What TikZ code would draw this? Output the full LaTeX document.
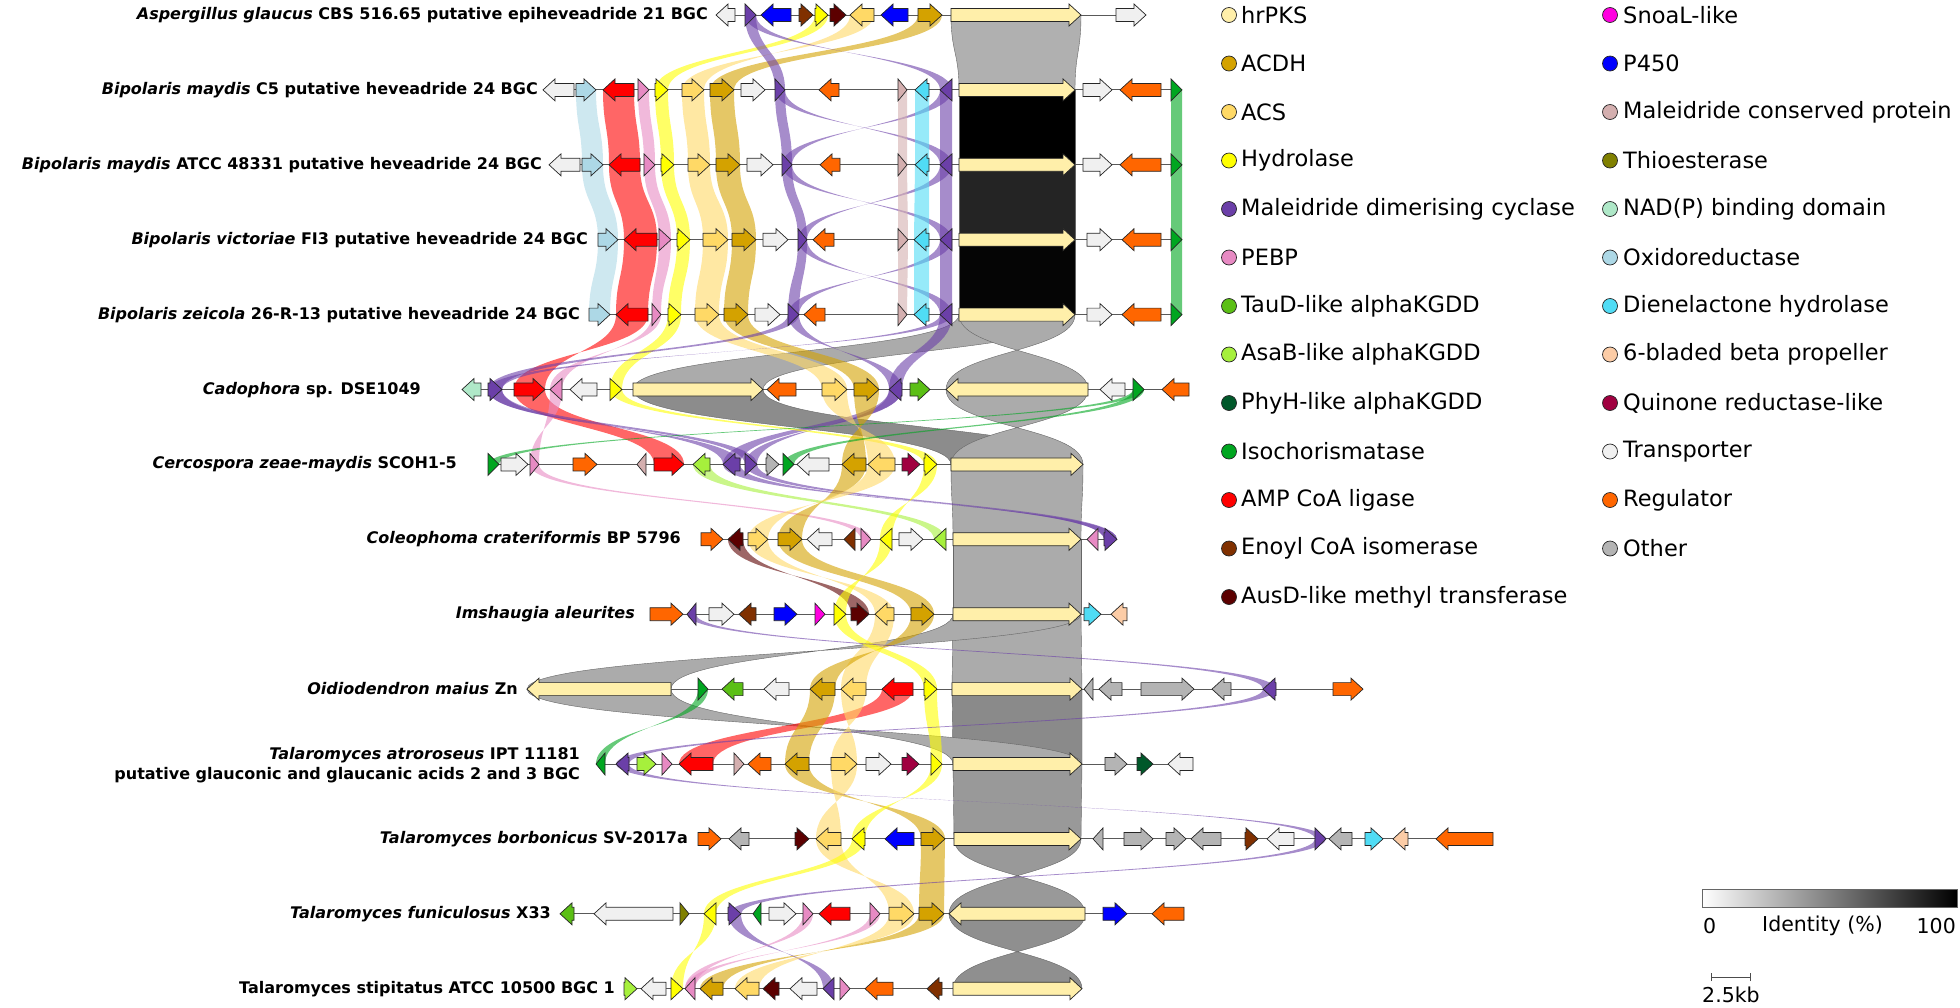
\documentclass[tikz,border=0pt]{standalone}
\usepackage{fontspec}
\setmainfont{DejaVu Sans}
\definecolor{hrpks}{HTML}{FFEFAA}
\definecolor{acdh}{HTML}{D4A200}
\definecolor{acs}{HTML}{FFD966}
\definecolor{hydro}{HTML}{FFFF00}
\definecolor{mdc}{HTML}{6B3FA8}
\definecolor{pebp}{HTML}{E78AC3}
\definecolor{taud}{HTML}{5BBF15}
\definecolor{asab}{HTML}{A6F03C}
\definecolor{phyh}{HTML}{00582A}
\definecolor{isoc}{HTML}{00A620}
\definecolor{amp}{HTML}{FF0000}
\definecolor{enoyl}{HTML}{803000}
\definecolor{ausd}{HTML}{5C0000}
\definecolor{snoal}{HTML}{FF00E0}
\definecolor{p450}{HTML}{0000FF}
\definecolor{mcp}{HTML}{D4AFAF}
\definecolor{thio}{HTML}{808000}
\definecolor{nadp}{HTML}{AFE8C8}
\definecolor{oxred}{HTML}{ADD8E6}
\definecolor{dien}{HTML}{50DCF5}
\definecolor{prop}{HTML}{FCCCA6}
\definecolor{quin}{HTML}{A00040}
\definecolor{trans}{HTML}{F0F0F0}
\definecolor{reg}{HTML}{FF6600}
\definecolor{other}{HTML}{B4B4B4}
\newcommand\species[1]{\textit{#1}}
\newcommand\genrow[1]{\pgfmathsetmacro\ry{15+74.9*(#1-1)}}
\newcommand\drawgene[3]{%
  \pgfmathsetmacro\gdir{#2>#1 ? 1 : -1}%
  \pgfmathsetmacro\ghead{min(abs(#2-#1),12)}%
  \pgfmathsetmacro\gneck{#2-\gdir*\ghead}%
  \filldraw[gene,fill=#3] (#1,\ry-6.5) -- (\gneck,\ry-6.5) -- (\gneck,\ry-11) -- (#2,\ry)
    -- (\gneck,\ry+11) -- (\gneck,\ry+6.5) -- (#1,\ry+6.5) -- cycle;}
\newcommand\drawlink[6]{%
  \pgfmathsetmacro\lka{15+74.9*(#2-1)}%
  \pgfmathsetmacro\lkb{\lka+74.9}%
  \pgfmathsetmacro\lkm{\lka+37.45}%
  \path[#1] (#3,\lka) -- (#4,\lka) .. controls (#4,\lkm) and (#6,\lkm) .. (#6,\lkb)
    -- (#5,\lkb) .. controls (#5,\lkm) and (#3,\lkm) .. cycle;}
\begin{document}
\begin{tikzpicture}[x=1pt,y=-1pt,
  gene/.style={draw=black!85,line width=0.7pt},
  backbone/.style={draw=black!65,line width=1pt},
  band/.style={fill=#1,fill opacity=0.6},
  pks/.style={fill=black!#1,draw=black!60,line width=0.4pt},
  lbl/.style={anchor=east,inner sep=0pt,font=\fontsize{16}{20}\selectfont\bfseries},
  legtext/.style={anchor=west,inner sep=0pt,font=\fontsize{22.5}{26}\selectfont},
  legdot/.style={draw=black!85,line width=0.7pt},
  scaletext/.style={inner sep=0pt,font=\fontsize{20.5}{24}\selectfont}]
\useasboundingbox (0,0) rectangle (1960,1007);

% links between neighbouring clusters
\drawlink{pks=31}{1}{951}{1081}{959}{1075}
\drawlink{band=hydro}{1}{815}{828}{655}{668}
\drawlink{band=acs}{1}{850}{874}{704}{682}
\drawlink{band=acdh}{1}{918}{942}{710}{734}
\drawlink{band=mdc}{1}{745}{756}{775}{785}
\drawlink{band=mdc}{1}{745}{756}{952}{940}

\drawlink{pks=100}{2}{959}{1075}{959}{1075}
\drawlink{band=oxred}{2}{576}{596}{582}{603}
\drawlink{band=amp}{2}{603}{634}{609}{640}
\drawlink{band=pebp}{2}{638}{649}{644}{655}
\drawlink{band=hydro}{2}{655}{668}{661}{674}
\drawlink{band=acs}{2}{682}{704}{688}{710}
\drawlink{band=acdh}{2}{710}{734}{716}{740}
\drawlink{band=mdc}{2}{775}{785}{782}{792}
\drawlink{band=mdc}{2}{775}{785}{952}{940}
\drawlink{band=mdc}{2}{940}{952}{792}{782}
\drawlink{band=mdc}{2}{940}{952}{940}{952}
\drawlink{band=mcp}{2}{898}{907}{898}{907}
\drawlink{band=dien}{2}{915}{929}{915}{929}
\drawlink{band=isoc}{2}{1171}{1182}{1171}{1182}

\drawlink{pks=86}{3}{959}{1075}{959}{1075}
\drawlink{band=oxred}{3}{582}{603}{598}{618}
\drawlink{band=amp}{3}{609}{640}{624}{657}
\drawlink{band=pebp}{3}{644}{655}{659}{671}
\drawlink{band=hydro}{3}{661}{674}{677}{690}
\drawlink{band=acs}{3}{688}{710}{703}{728}
\drawlink{band=acdh}{3}{716}{740}{732}{756}
\drawlink{band=mdc}{3}{782}{792}{798}{807}
\drawlink{band=mdc}{3}{782}{792}{952}{940}
\drawlink{band=mdc}{3}{940}{952}{807}{798}
\drawlink{band=mdc}{3}{940}{952}{940}{952}
\drawlink{band=mcp}{3}{898}{907}{898}{908}
\drawlink{band=dien}{3}{915}{929}{914}{929}
\drawlink{band=isoc}{3}{1171}{1182}{1171}{1182}

\drawlink{pks=98}{4}{959}{1075}{959}{1075}
\drawlink{band=oxred}{4}{598}{618}{589}{610}
\drawlink{band=amp}{4}{624}{657}{616}{648}
\drawlink{band=pebp}{4}{659}{671}{652}{661}
\drawlink{band=hydro}{4}{677}{690}{668}{681}
\drawlink{band=acs}{4}{703}{728}{695}{719}
\drawlink{band=acdh}{4}{732}{756}{724}{748}
\drawlink{band=mdc}{4}{798}{807}{788}{799}
\drawlink{band=mdc}{4}{798}{807}{952}{940}
\drawlink{band=mdc}{4}{940}{952}{799}{788}
\drawlink{band=mdc}{4}{940}{952}{940}{952}
\drawlink{band=mcp}{4}{898}{908}{898}{907}
\drawlink{band=dien}{4}{914}{929}{914}{929}
\drawlink{band=isoc}{4}{1171}{1182}{1171}{1182}

\drawlink{pks=33}{5}{959}{1075}{633}{763}
\drawlink{pks=33}{5}{959}{1075}{1088}{946}
\drawlink{band=amp}{5}{616}{648}{545}{514}
\drawlink{band=pebp}{5}{652}{661}{562}{550}
\drawlink{band=hydro}{5}{668}{681}{610}{622}
\drawlink{band=acs}{5}{695}{719}{822}{847}
\drawlink{band=acdh}{5}{724}{748}{854}{879}
\drawlink{band=mdc}{5}{788}{799}{488}{502}
\drawlink{band=mdc}{5}{788}{799}{902}{889}
\drawlink{band=mdc}{5}{940}{952}{502}{488}
\drawlink{band=mdc}{5}{940}{952}{889}{902}

\drawlink{pks=45}{6}{633}{763}{951}{1083}
\drawlink{pks=33}{6}{946}{1088}{1083}{951}
\drawlink{band=amp}{6}{514}{545}{654}{684}
\drawlink{band=pebp}{6}{550}{562}{539}{530}
\drawlink{band=mdc}{6}{488}{502}{740}{723}
\drawlink{band=mdc}{6}{488}{502}{745}{757}
\drawlink{band=mdc}{6}{889}{902}{723}{740}
\drawlink{band=mdc}{6}{889}{902}{757}{745}
\drawlink{band=hydro}{6}{610}{622}{924}{937}
\drawlink{band=acs}{6}{822}{847}{895}{868}
\drawlink{band=acdh}{6}{854}{879}{866}{842}
\drawlink{band=isoc}{6}{1133}{1144}{488}{499}
\drawlink{band=isoc}{6}{1133}{1144}{783}{794}

\drawlink{pks=33}{7}{951}{1083}{953}{1081}
\drawlink{band=pebp}{7}{530}{539}{861}{871}
\drawlink{band=asab}{7}{693}{710}{934}{946}
\drawlink{band=mdc}{7}{723}{740}{1117}{1104}
\drawlink{band=mdc}{7}{745}{757}{1104}{1117}
\drawlink{band=acdh}{7}{842}{866}{802}{778}
\drawlink{band=acs}{7}{868}{895}{768}{748}
\drawlink{band=hydro}{7}{924}{937}{892}{880}

\drawlink{pks=33}{8}{953}{1081}{953}{1081}
\drawlink{band=ausd}{8}{728}{743}{869}{851}
\drawlink{band=acs}{8}{748}{768}{894}{875}
\drawlink{band=acdh}{8}{778}{802}{911}{934}
\drawlink{band=hydro}{8}{880}{892}{846}{834}

\drawlink{pks=33}{9}{953}{1081}{952}{1082}
\drawlink{pks=33}{9}{953}{1081}{671}{527}
\drawlink{band=acs}{9}{875}{894}{841}{866}
\drawlink{band=acdh}{9}{911}{934}{835}{810}
\drawlink{band=hydro}{9}{834}{846}{924}{937}
\drawlink{band=mdc}{9}{687}{696}{1263}{1276}

\drawlink{pks=46}{10}{952}{1082}{953}{1082}
\drawlink{pks=33}{10}{527}{671}{1082}{953}
\drawlink{band=isoc}{10}{698}{708}{605}{596}
\drawlink{band=amp}{10}{882}{913}{679}{713}
\drawlink{band=acdh}{10}{810}{835}{785}{809}
\drawlink{band=acs}{10}{841}{866}{857}{831}
\drawlink{band=hydro}{10}{924}{937}{931}{942}
\drawlink{band=mdc}{10}{1263}{1276}{616}{629}

\drawlink{pks=40}{11}{953}{1082}{954}{1081}
\drawlink{band=acdh}{11}{785}{809}{945}{921}
\drawlink{band=acs}{11}{831}{857}{841}{816}
\drawlink{band=hydro}{11}{931}{942}{865}{852}
\drawlink{band=mdc}{11}{616}{629}{1326}{1315}

\drawlink{pks=40}{12}{954}{1081}{1085}{949}
\drawlink{band=acdh}{12}{921}{945}{919}{944}
\drawlink{band=acs}{12}{816}{841}{914}{889}
\drawlink{band=hydro}{12}{852}{865}{704}{716}
\drawlink{band=mdc}{12}{1315}{1326}{728}{741}

\drawlink{pks=44}{13}{949}{1085}{1082}{953}
\drawlink{band=hydro}{13}{704}{716}{683}{671}
\drawlink{band=mdc}{13}{728}{741}{834}{823}
\drawlink{band=pebp}{13}{803}{813}{695}{685}
\drawlink{band=pebp}{13}{870}{880}{695}{685}
\drawlink{band=acs}{13}{889}{914}{759}{735}
\drawlink{band=acdh}{13}{919}{944}{723}{700}

% clusters
\genrow{1}
\draw[backbone] (716,\ry) -- (1146,\ry);
\drawgene{735}{716}{trans}\drawgene{745}{756}{mdc}\drawgene{791}{761}{p450}
\drawgene{799}{813}{enoyl}\drawgene{815}{828}{hydro}\drawgene{830}{846}{ausd}
\drawgene{874}{850}{acs}\drawgene{908}{881}{p450}\drawgene{918}{942}{acdh}
\drawgene{951}{1081}{hrpks}\drawgene{1116}{1146}{trans}

\genrow{2}
\draw[backbone] (543,\ry) -- (1182,\ry);
\drawgene{574}{543}{trans}\drawgene{576}{596}{oxred}\drawgene{634}{603}{amp}
\drawgene{638}{649}{pebp}\drawgene{655}{668}{hydro}\drawgene{682}{704}{acs}
\drawgene{710}{734}{acdh}\drawgene{741}{765}{trans}\drawgene{775}{785}{mdc}
\drawgene{839}{819}{reg}\drawgene{898}{907}{mcp}\drawgene{929}{915}{dien}
\drawgene{952}{940}{mdc}\drawgene{959}{1075}{hrpks}\drawgene{1083}{1112}{trans}
\drawgene{1161}{1120}{reg}\drawgene{1171}{1182}{isoc}

\genrow{3}
\draw[backbone] (549,\ry) -- (1182,\ry);
\drawgene{580}{549}{trans}\drawgene{582}{603}{oxred}\drawgene{640}{609}{amp}
\drawgene{644}{655}{pebp}\drawgene{661}{674}{hydro}\drawgene{688}{710}{acs}
\drawgene{716}{740}{acdh}\drawgene{747}{773}{trans}\drawgene{782}{792}{mdc}
\drawgene{840}{820}{reg}\drawgene{898}{907}{mcp}\drawgene{929}{915}{dien}
\drawgene{952}{940}{mdc}\drawgene{959}{1075}{hrpks}\drawgene{1083}{1112}{trans}
\drawgene{1161}{1120}{reg}\drawgene{1171}{1182}{isoc}

\genrow{4}
\draw[backbone] (598,\ry) -- (1182,\ry);
\drawgene{598}{618}{oxred}\drawgene{657}{624}{amp}\drawgene{659}{671}{pebp}
\drawgene{677}{690}{hydro}\drawgene{703}{728}{acs}\drawgene{732}{756}{acdh}
\drawgene{763}{788}{trans}\drawgene{798}{807}{mdc}\drawgene{834}{813}{reg}
\drawgene{898}{908}{mcp}\drawgene{929}{914}{dien}\drawgene{952}{940}{mdc}
\drawgene{959}{1075}{hrpks}\drawgene{1087}{1112}{trans}\drawgene{1161}{1122}{reg}
\drawgene{1171}{1182}{isoc}

\genrow{5}
\draw[backbone] (589,\ry) -- (1182,\ry);
\drawgene{589}{610}{oxred}\drawgene{648}{616}{amp}\drawgene{652}{661}{pebp}
\drawgene{668}{681}{hydro}\drawgene{695}{719}{acs}\drawgene{724}{748}{acdh}
\drawgene{755}{780}{trans}\drawgene{788}{799}{mdc}\drawgene{825}{804}{reg}
\drawgene{898}{907}{mcp}\drawgene{929}{914}{dien}\drawgene{952}{940}{mdc}
\drawgene{959}{1075}{hrpks}\drawgene{1087}{1112}{trans}\drawgene{1161}{1122}{reg}
\drawgene{1171}{1182}{isoc}

\genrow{6}
\draw[backbone] (462,\ry) -- (1189,\ry);
\drawgene{481}{462}{nadp}\drawgene{488}{502}{mdc}\drawgene{514}{545}{amp}
\drawgene{562}{550}{pebp}\drawgene{597}{570}{trans}\drawgene{610}{622}{hydro}
\drawgene{633}{763}{hrpks}\drawgene{796}{767}{reg}\drawgene{822}{847}{acs}
\drawgene{854}{879}{acdh}\drawgene{902}{889}{mdc}\drawgene{910}{930}{taud}
\drawgene{1088}{946}{hrpks}\drawgene{1125}{1100}{trans}\drawgene{1133}{1144}{isoc}
\drawgene{1189}{1162}{reg}

\genrow{7}
\draw[backbone] (488,\ry) -- (1083,\ry);
\drawgene{488}{499}{isoc}\drawgene{501}{528}{trans}\drawgene{530}{539}{pebp}
\drawgene{573}{597}{reg}\drawgene{646}{637}{mcp}\drawgene{654}{684}{amp}
\drawgene{710}{693}{asab}\drawgene{740}{723}{mdc}\drawgene{745}{757}{mdc}
\drawgene{766}{779}{other}\drawgene{783}{794}{isoc}\drawgene{829}{797}{trans}
\drawgene{866}{842}{acdh}\drawgene{895}{868}{acs}\drawgene{902}{920}{quin}
\drawgene{924}{937}{hydro}\drawgene{951}{1083}{hrpks}

\genrow{8}
\draw[backbone] (701,\ry) -- (1117,\ry);
\drawgene{701}{723}{reg}\drawgene{743}{728}{ausd}\drawgene{748}{768}{acs}
\drawgene{778}{802}{acdh}\drawgene{832}{807}{trans}\drawgene{855}{844}{enoyl}
\drawgene{861}{871}{pebp}\drawgene{892}{880}{hydro}\drawgene{899}{923}{trans}
\drawgene{946}{934}{asab}\drawgene{953}{1081}{hrpks}\drawgene{1098}{1087}{pebp}
\drawgene{1104}{1117}{mdc}

\genrow{9}
\draw[backbone] (650,\ry) -- (1127,\ry);
\drawgene{650}{683}{reg}\drawgene{696}{687}{mdc}\drawgene{709}{734}{trans}
\drawgene{756}{739}{enoyl}\drawgene{774}{797}{p450}\drawgene{815}{825}{snoal}
\drawgene{834}{846}{hydro}\drawgene{851}{869}{ausd}\drawgene{894}{875}{acs}
\drawgene{911}{934}{acdh}\drawgene{953}{1081}{hrpks}\drawgene{1084}{1101}{dien}
\drawgene{1127}{1111}{prop}

\genrow{10}
\draw[backbone] (527,\ry) -- (1363,\ry);
\drawgene{671}{527}{hrpks}\drawgene{698}{708}{isoc}\drawgene{743}{722}{taud}
\drawgene{789}{764}{trans}\drawgene{835}{810}{acdh}\drawgene{866}{841}{acs}
\drawgene{913}{882}{amp}\drawgene{924}{937}{hydro}\drawgene{952}{1082}{hrpks}
\drawgene{1093}{1084}{other}\drawgene{1122}{1099}{other}\drawgene{1141}{1194}{other}
\drawgene{1231}{1212}{other}\drawgene{1276}{1263}{mdc}\drawgene{1333}{1363}{reg}

\genrow{11}
\draw[backbone] (596,\ry) -- (1193,\ry);
\drawgene{605}{596}{isoc}\drawgene{629}{616}{mdc}\drawgene{637}{656}{asab}
\drawgene{662}{672}{pebp}\drawgene{713}{679}{amp}\drawgene{734}{744}{mcp}
\drawgene{771}{748}{reg}\drawgene{809}{785}{acdh}\drawgene{831}{857}{acs}
\drawgene{866}{891}{trans}\drawgene{902}{919}{quin}\drawgene{931}{942}{hydro}
\drawgene{953}{1082}{hrpks}\drawgene{1105}{1127}{other}\drawgene{1137}{1153}{phyh}
\drawgene{1193}{1168}{trans}

\genrow{12}
\draw[backbone] (698,\ry) -- (1493,\ry);
\drawgene{698}{721}{reg}\drawgene{749}{729}{other}\drawgene{795}{809}{ausd}
\drawgene{841}{816}{acs}\drawgene{865}{852}{hydro}\drawgene{914}{885}{p450}
\drawgene{921}{945}{acdh}\drawgene{954}{1081}{hrpks}\drawgene{1103}{1093}{other}
\drawgene{1124}{1153}{other}\drawgene{1166}{1186}{other}\drawgene{1221}{1191}{other}
\drawgene{1245}{1258}{enoyl}\drawgene{1294}{1267}{trans}\drawgene{1315}{1326}{mdc}
\drawgene{1352}{1329}{other}\drawgene{1365}{1383}{dien}\drawgene{1408}{1393}{prop}
\drawgene{1493}{1436}{reg}

\genrow{13}
\draw[backbone] (560,\ry) -- (1184,\ry);
\drawgene{574}{560}{taud}\drawgene{673}{594}{trans}\drawgene{680}{689}{thio}
\drawgene{716}{704}{hydro}\drawgene{728}{741}{mdc}\drawgene{761}{753}{isoc}
\drawgene{769}{796}{trans}\drawgene{803}{813}{pebp}\drawgene{850}{819}{amp}
\drawgene{870}{880}{pebp}\drawgene{889}{914}{acs}\drawgene{919}{944}{acdh}
\drawgene{1085}{949}{hrpks}\drawgene{1103}{1127}{p450}\drawgene{1184}{1152}{reg}

\genrow{14}
\draw[backbone] (624,\ry) -- (1082,\ry);
\drawgene{624}{637}{asab}\drawgene{666}{641}{trans}\drawgene{671}{683}{hydro}
\drawgene{695}{685}{pebp}\drawgene{723}{700}{acdh}\drawgene{759}{735}{acs}
\drawgene{779}{763}{ausd}\drawgene{817}{790}{trans}\drawgene{834}{823}{mdc}
\drawgene{840}{850}{pebp}\drawgene{893}{865}{reg}\drawgene{942}{927}{enoyl}
\drawgene{953}{1082}{hrpks}

% cluster names
\node[lbl] (n1) at (708,15) {\species{Aspergillus glaucus} CBS 516.65 putative epiheveadride 21 BGC};
\node[lbl] (n2) at (538,90) {\species{Bipolaris maydis} C5 putative heveadride 24 BGC};
\node[lbl] (n3) at (542,165) {\species{Bipolaris maydis} ATCC 48331 putative heveadride 24 BGC};
\node[lbl] (n4) at (588,240) {\species{Bipolaris victoriae} FI3 putative heveadride 24 BGC};
\node[lbl] (n5) at (580,315) {\species{Bipolaris zeicola} 26-R-13 putative heveadride 24 BGC};
\node[lbl] (n6) at (421,390) {\species{Cadophora} sp. DSE1049};
\node[lbl] (n7) at (457,464) {\species{Cercospora zeae-maydis} SCOH1-5};
\node[lbl] (n8) at (681,539) {\species{Coleophoma crateriformis} BP 5796};
\node[lbl] (n9) at (635,614) {\species{Imshaugia aleurites}};
\node[lbl] (n10) at (518,689) {\species{Oidiodendron maius} Zn};
\node[lbl,align=right] (n11) at (580,765) {\species{Talaromyces atroroseus} IPT 11181\\putative glauconic and glaucanic acids 2 and 3 BGC};
\node[lbl] (n12) at (688,839) {\species{Talaromyces borbonicus} SV-2017a};
\node[lbl] (n13) at (551,914) {\species{Talaromyces funiculosus} X33};
\node[lbl] (n14) at (615,989) {Talaromyces stipitatus ATCC 10500 BGC 1};

% legend
\foreach \c/\t [count=\i from 0] in {hrpks/hrPKS, acdh/ACDH, acs/ACS, hydro/Hydrolase,
    mdc/Maleidride dimerising cyclase, pebp/PEBP, taud/TauD-like alphaKGDD,
    asab/AsaB-like alphaKGDD, phyh/PhyH-like alphaKGDD, isoc/Isochorismatase,
    amp/AMP CoA ligase, enoyl/Enoyl CoA isomerase, ausd/AusD-like methyl transferase}{
  \filldraw[legdot,fill=\c] (1229,15+48.5*\i) circle (7.5);
  \node[legtext] (la\i) at (1241,15+48.5*\i) {\t};
}
\foreach \c/\t [count=\i from 0] in {snoal/SnoaL-like, p450/P450, mcp/Maleidride conserved protein,
    thio/Thioesterase, nadp/NAD(P) binding domain, oxred/Oxidoreductase,
    dien/Dienelactone hydrolase, prop/6-bladed beta propeller, quin/Quinone reductase-like,
    trans/Transporter, reg/Regulator, other/Other}{
  \filldraw[legdot,fill=\c] (1610,15+48.5*\i) circle (7.5);
  \node[legtext] (lb\i) at (1623,15+48.5*\i) {\t};
}

% identity scale and size bar
\shade[left color=white,right color=black] (1702,889) rectangle (1957,907);
\draw[black!60,line width=0.6pt] (1702,889) rectangle (1957,907);
\node[scaletext,anchor=west] (id0) at (1703,926) {0};
\node[scaletext,anchor=west] (idl) at (1762,926) {Identity (\%)};
\node[scaletext,anchor=east] (id1) at (1956,926) {100};
\coordinate (sb1) at (1711,977);
\coordinate (sb2) at (1750,977);
\draw[black!70,line width=0.8pt] (sb1) -- (sb2);
\draw[black!70,line width=0.8pt] ([yshift=-4pt]sb1) -- ([yshift=4pt]sb1);
\draw[black!70,line width=0.8pt] ([yshift=-4pt]sb2) -- ([yshift=4pt]sb2);
\node[scaletext,anchor=west] (kb) at (1702,995) {2.5kb};
\end{tikzpicture}
\end{document}
